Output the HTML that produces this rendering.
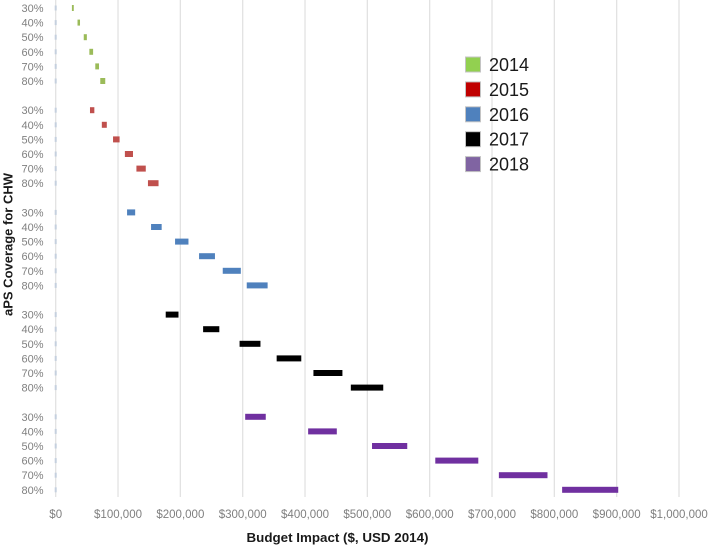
<!DOCTYPE html>
<html>
<head>
<meta charset="utf-8">
<title>Budget Impact Chart</title>
<style>
html,body{margin:0;padding:0;background:#fff;width:709px;height:547px;overflow:hidden}
svg{display:block}
text{font-family:"Liberation Sans",sans-serif}
</style>
</head>
<body>
<svg id="chart" width="709" height="547" viewBox="0 0 709 547" xmlns="http://www.w3.org/2000/svg"></svg>
<script>
const coverageLabels = ['30%','40%','50%','60%','70%','80%'];
const years = ['2014','2015','2016','2017','2018'];
const xTicks = [0,100000,200000,300000,400000,500000,600000,700000,800000,900000,1000000];
const low2014 = [26000,35000,45000,54000,63500,71500];
const high2014 = [29000,39000,50000,60000,69500,79500];
const low2015 = [55000,74000,92000,111000,129500,148000];
const high2015 = [62000,82000,102500,124000,144500,165000];
const low2016 = [114500,153000,191500,230000,268000,306500];
const high2016 = [127500,170000,213000,255500,297000,340000];
const low2017 = [176500,236500,295000,354500,413500,473500];
const high2017 = [197000,262500,328500,394000,460000,525500];
const low2018 = [304000,405000,507500,609000,711000,812500];
const high2018 = [337000,451000,564000,678000,789000,902500];
const xTitle = 'Budget Impact ($, USD 2014)';
const yTitle = 'aPS Coverage for CHW';

const lows = [low2014,low2015,low2016,low2017,low2018];
const highs = [high2014,high2015,high2016,high2017,high2018];
const barColors = ['#9bbb59','#c0504d','#4f81bd','#000000','#7030a0'];
const legendColors = ['#92d050','#c00000','#4f81bd','#000000','#8064a2'];

const svg = document.getElementById('chart');
const NS = 'http://www.w3.org/2000/svg';
function mk(tag, attrs, text){
  const el = document.createElementNS(NS, tag);
  for (const k in attrs) el.setAttribute(k, attrs[k]);
  if (text !== undefined) el.textContent = text;
  svg.appendChild(el);
  return el;
}
function xScale(v){ return 55.7 + v / 1000000 * 623.3; }
function yScale(group, row){ return 8 + (group * 7 + row) * 14.6; }
function money(v){ return '$' + v.toLocaleString('en-US'); }

xTicks.forEach(function(t){
  const line = mk('line',{x1:xScale(t),x2:xScale(t),y1:0,y2:497,stroke:'#e2e2e2','stroke-width':1.3});
  
  
  const label = mk('text',{x:xScale(t),y:518,'text-anchor':'middle','font-size':11.5,fill:'#7f7f7f'},money(t));
  
  
});

years.forEach(function(year, g){
  coverageLabels.forEach(function(cov, r){
    const y = yScale(g, r);
    const label = mk('text',{x:43.5,y:y+4,'text-anchor':'end','font-size':11,fill:'#7f7f7f'},cov);
    
    
    const tick = mk('rect',{x:xScale(0)-1,y:y-2.5,width:2,height:5,fill:'#c5d0de'});
    
    
    const lo = lows[g][r], hi = highs[g][r];
    const bar = mk('rect',{x:xScale(lo),y:y-3,width:xScale(hi)-xScale(lo),height:6,fill:barColors[g]});
    
    
  });
});

years.forEach(function(year, i){
  const cy = 64.5 + i * 24.9;
  const swatch = mk('rect',{x:465.5,y:cy-7.5,width:15,height:15,fill:legendColors[i],stroke:'#c4c4c4','stroke-width':1});
  
  
  const label = mk('text',{x:489,y:cy+6.5,'font-size':18,fill:'#1a1a1a'},year);
  
  
});

const xt = mk('text',{x:337.5,y:542,'text-anchor':'middle','font-size':12.5,'font-weight':'bold',fill:'#1a1a1a',textLength:182,lengthAdjust:'spacingAndGlyphs'},xTitle);


const yt = mk('text',{x:0,y:0,transform:'translate(12.5,244.5) rotate(-90)','text-anchor':'middle','font-size':12.5,'font-weight':'bold',fill:'#1a1a1a',textLength:143,lengthAdjust:'spacingAndGlyphs'},yTitle);


</script>
</body>
</html>
